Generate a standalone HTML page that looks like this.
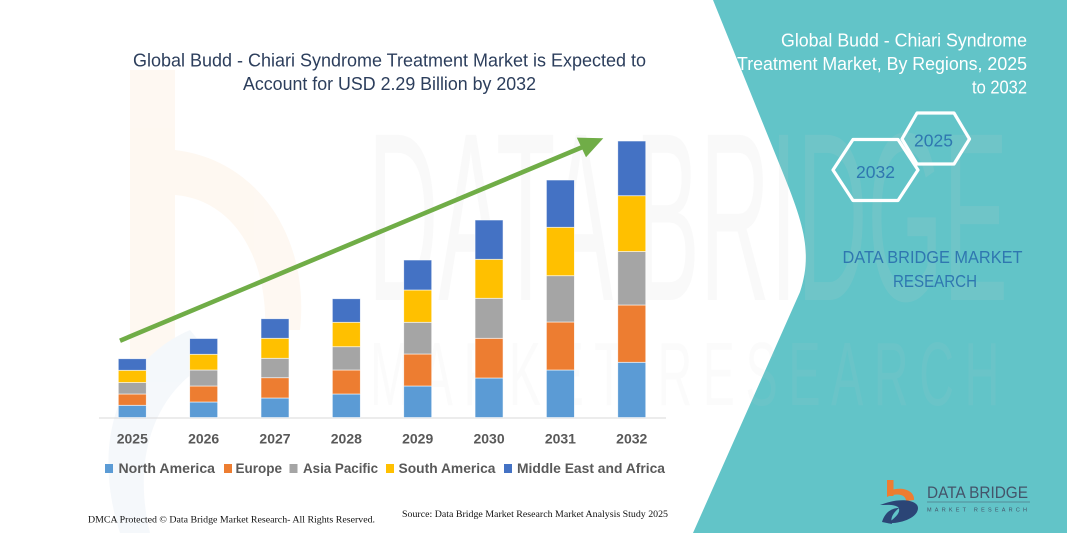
<!DOCTYPE html>
<html><head><meta charset="utf-8"><style>
html,body{margin:0;padding:0;background:#fff;}
svg{display:block;}
</style></head><body>
<svg width="1067" height="533" viewBox="0 0 1067 533" xmlns="http://www.w3.org/2000/svg" font-family="'Liberation Sans', sans-serif">
<rect x="0" y="0" width="1067" height="533" fill="#ffffff"/>
<!-- faint watermark b -->
<g opacity="0.4">
<rect x="130" y="70" width="45" height="300" fill="#fdeede"/>
<path d="M175,150 C260,160 310,240 300,330 L265,330 C268,260 235,200 175,195 Z" fill="#fdeede"/>
<path d="M190,330 C120,360 90,440 120,533 L150,533 C130,450 160,385 215,360 Z" fill="#e6eef6"/>
</g>
<!-- teal panel -->
<path d="M713,0 L785,178 C805,228 812,255 800,292 L693,533 L1067,533 L1067,0 Z" fill="#62c4c8"/>
<!-- faint watermark text -->
<text x="368" y="300" font-size="240" fill="#cfcfcf" opacity="0.12" textLength="640" lengthAdjust="spacingAndGlyphs">DATA BRIDGE</text>
<text x="370" y="405" font-size="90" fill="#cfcfcf" opacity="0.08" textLength="640" lengthAdjust="spacingAndGlyphs" letter-spacing="20">MARKET RESEARCH</text>

<!-- title -->
<text x="133" y="66.5" font-size="18" fill="#2c3e5c" textLength="513" lengthAdjust="spacingAndGlyphs">Global Budd - Chiari Syndrome Treatment Market is Expected to</text>
<text x="243" y="90" font-size="18" fill="#2c3e5c" textLength="293" lengthAdjust="spacingAndGlyphs">Account for USD 2.29 Billion by 2032</text>

<!-- axis -->
<line x1="99" y1="418" x2="666" y2="418" stroke="#d9d9d9" stroke-width="1"/>

<!-- bars -->
<g stroke="#ffffff" stroke-width="0.8" stroke-opacity="0.7">
<!-- 2025 -->
<rect x="118.3" y="405.3" width="28" height="12.2" fill="#5b9bd5"/>
<rect x="118.3" y="394" width="28" height="11.3" fill="#ed7d31"/>
<rect x="118.3" y="382.5" width="28" height="11.5" fill="#a5a5a5"/>
<rect x="118.3" y="370.3" width="28" height="12.2" fill="#ffc000"/>
<rect x="118.3" y="358.7" width="28" height="11.6" fill="#4472c4"/>
<!-- 2026 -->
<rect x="189.65" y="402" width="28" height="15.5" fill="#5b9bd5"/>
<rect x="189.65" y="386" width="28" height="16" fill="#ed7d31"/>
<rect x="189.65" y="370" width="28" height="16" fill="#a5a5a5"/>
<rect x="189.65" y="354.3" width="28" height="15.7" fill="#ffc000"/>
<rect x="189.65" y="338.5" width="28" height="15.8" fill="#4472c4"/>
<!-- 2027 -->
<rect x="261" y="398" width="28" height="19.5" fill="#5b9bd5"/>
<rect x="261" y="377.7" width="28" height="20.3" fill="#ed7d31"/>
<rect x="261" y="358.3" width="28" height="19.4" fill="#a5a5a5"/>
<rect x="261" y="338.3" width="28" height="20" fill="#ffc000"/>
<rect x="261" y="318.7" width="28" height="19.6" fill="#4472c4"/>
<!-- 2028 -->
<rect x="332.35" y="394" width="28" height="23.5" fill="#5b9bd5"/>
<rect x="332.35" y="370" width="28" height="24" fill="#ed7d31"/>
<rect x="332.35" y="346.7" width="28" height="23.3" fill="#a5a5a5"/>
<rect x="332.35" y="322.3" width="28" height="24.4" fill="#ffc000"/>
<rect x="332.35" y="298.7" width="28" height="23.6" fill="#4472c4"/>
<!-- 2029 -->
<rect x="403.7" y="386" width="28" height="31.5" fill="#5b9bd5"/>
<rect x="403.7" y="354" width="28" height="32" fill="#ed7d31"/>
<rect x="403.7" y="322.3" width="28" height="31.7" fill="#a5a5a5"/>
<rect x="403.7" y="290" width="28" height="32.3" fill="#ffc000"/>
<rect x="403.7" y="260" width="28" height="30" fill="#4472c4"/>
<!-- 2030 -->
<rect x="475.05" y="378" width="28" height="39.5" fill="#5b9bd5"/>
<rect x="475.05" y="338.3" width="28" height="39.7" fill="#ed7d31"/>
<rect x="475.05" y="298.3" width="28" height="40" fill="#a5a5a5"/>
<rect x="475.05" y="259.3" width="28" height="39" fill="#ffc000"/>
<rect x="475.05" y="220" width="28" height="39.3" fill="#4472c4"/>
<!-- 2031 -->
<rect x="546.4" y="370" width="28" height="47.5" fill="#5b9bd5"/>
<rect x="546.4" y="322" width="28" height="48" fill="#ed7d31"/>
<rect x="546.4" y="275.7" width="28" height="46.3" fill="#a5a5a5"/>
<rect x="546.4" y="227.3" width="28" height="48.4" fill="#ffc000"/>
<rect x="546.4" y="180" width="28" height="47.3" fill="#4472c4"/>
<!-- 2032 -->
<rect x="617.75" y="362.3" width="28" height="55.2" fill="#5b9bd5"/>
<rect x="617.75" y="305" width="28" height="57.3" fill="#ed7d31"/>
<rect x="617.75" y="251.5" width="28" height="53.5" fill="#a5a5a5"/>
<rect x="617.75" y="195.7" width="28" height="55.8" fill="#ffc000"/>
<rect x="617.75" y="141" width="28" height="54.7" fill="#4472c4"/>
</g>

<!-- arrow -->
<line x1="120" y1="340.7" x2="582" y2="147.3" stroke="#70ad47" stroke-width="4.6"/>
<polygon points="603.3,138.3 586,157.2 576.8,137.6" fill="#70ad47"/>

<!-- year labels -->
<g font-size="14" font-weight="bold" fill="#595959" text-anchor="middle">
<text x="132.3" y="443.5">2025</text>
<text x="203.65" y="443.5">2026</text>
<text x="275" y="443.5">2027</text>
<text x="346.35" y="443.5">2028</text>
<text x="417.7" y="443.5">2029</text>
<text x="489.05" y="443.5">2030</text>
<text x="560.4" y="443.5">2031</text>
<text x="631.75" y="443.5">2032</text>
</g>

<!-- legend -->
<g font-size="13.5" font-weight="bold" fill="#595959">
<rect x="105" y="464" width="8" height="9" fill="#5b9bd5"/>
<text x="118.5" y="473" textLength="96.5" lengthAdjust="spacingAndGlyphs">North America</text>
<rect x="224" y="464" width="8" height="9" fill="#ed7d31"/>
<text x="235.5" y="473" textLength="46.5" lengthAdjust="spacingAndGlyphs">Europe</text>
<rect x="289.5" y="464" width="8" height="9" fill="#a5a5a5"/>
<text x="303" y="473" textLength="75" lengthAdjust="spacingAndGlyphs">Asia Pacific</text>
<rect x="386" y="464" width="8" height="9" fill="#ffc000"/>
<text x="398.5" y="473" textLength="97" lengthAdjust="spacingAndGlyphs">South America</text>
<rect x="504" y="464" width="8" height="9" fill="#4472c4"/>
<text x="517" y="473" textLength="148" lengthAdjust="spacingAndGlyphs">Middle East and Africa</text>
</g>

<!-- footer -->
<text x="88" y="522.5" font-family="'Liberation Serif', serif" font-size="9.5" fill="#111" textLength="287" lengthAdjust="spacingAndGlyphs">DMCA Protected © Data Bridge Market Research-  All Rights Reserved.</text>
<text x="402" y="517" font-family="'Liberation Serif', serif" font-size="9.5" fill="#111" textLength="266" lengthAdjust="spacingAndGlyphs">Source: Data Bridge Market Research  Market Analysis Study 2025</text>

<!-- right panel title -->
<g font-size="18" fill="#ffffff" text-anchor="end">
<text x="1027" y="46.5" textLength="246" lengthAdjust="spacingAndGlyphs">Global Budd - Chiari Syndrome</text>
<text x="1027" y="70" textLength="290" lengthAdjust="spacingAndGlyphs">Treatment Market, By Regions, 2025</text>
<text x="1027" y="93.5" textLength="55" lengthAdjust="spacingAndGlyphs">to 2032</text>
</g>

<!-- hexagons -->
<polygon points="833,170 853,139.5 898,139.5 918,170 898,200.5 853,200.5" fill="none" stroke="#ffffff" stroke-width="3.2" stroke-linejoin="round"/>
<polygon points="902,139 917,113 954,113 969.5,139 954,164 917,164" fill="none" stroke="#ffffff" stroke-width="3.2" stroke-linejoin="round"/>
<text x="875.5" y="178" font-size="17.5" fill="#2f77b0" text-anchor="middle">2032</text>
<text x="933.5" y="146.5" font-size="17.5" fill="#2f77b0" text-anchor="middle">2025</text>

<!-- DBMR text -->
<text x="932.5" y="263" font-size="17.5" fill="#2f77b0" text-anchor="middle" textLength="180" lengthAdjust="spacingAndGlyphs">DATA BRIDGE MARKET</text>
<text x="935" y="287" font-size="17.5" fill="#2f77b0" text-anchor="middle" textLength="84" lengthAdjust="spacingAndGlyphs">RESEARCH</text>

<!-- logo -->
<rect x="887" y="480" width="6.5" height="16" fill="#ee7d31"/>
<path d="M887,492 C900,485 915,490 914,500 L906,501 C906,495 898,492 887,497 Z" fill="#ee7d31"/>
<path d="M880,505 C900,497 918,500 918,508 C918,518 900,524 888,523 C895,518 902,512 898,507 C893,504 886,505 880,505 Z" fill="#2b4576"/>
<path d="M882,522 C885,512 892,508 899,508 C893,513 890,518 892,524 Z" fill="#2b4576"/>
<text x="927" y="498" font-size="17" fill="#44546a" textLength="101" lengthAdjust="spacingAndGlyphs">DATA BRIDGE</text>
<line x1="927" y1="502" x2="1030" y2="502" stroke="#44546a" stroke-width="0.6"/>
<text x="927" y="511.5" font-size="5.5" fill="#44546a" textLength="100" lengthAdjust="spacing">MARKET RESEARCH</text>
</svg>
</body></html>
